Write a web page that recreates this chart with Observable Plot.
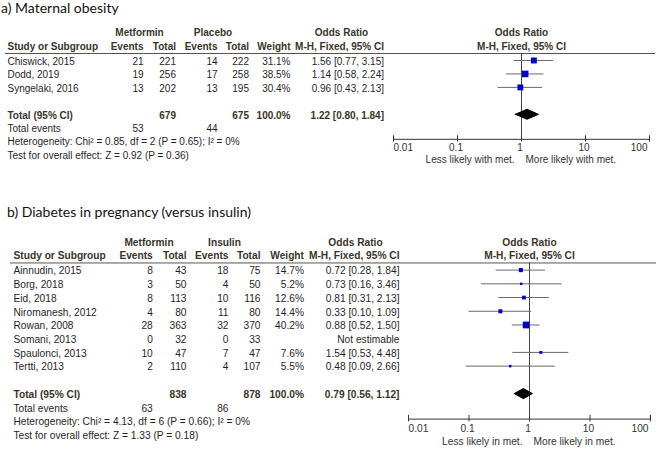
<!DOCTYPE html>
<html>
<head>
<meta charset="utf-8">
<script src="https://cdn.jsdelivr.net/npm/d3@7"></script>
<script src="https://cdn.jsdelivr.net/npm/@observablehq/plot@0.6"></script>
<style>
  body { margin: 0; background: #fff; }
  #fig { position: relative; width: 660px; height: 449px; overflow: hidden; background: #fff; }
  .title { position: absolute; font-family: Lato, "Open Sans", sans-serif; font-size: 14px; line-height: 16px; color: #111; white-space: nowrap; }
  #fig svg { position: absolute; left: 0; overflow: visible; }
</style>
</head>
<body>
<div id="fig">
  <div class="title" id="ta">a) Maternal obesity</div>
  <div class="title" id="tb">b) Diabetes in pregnancy (versus insulin)</div>
</div>
<script>
// ---------- Panel a: Maternal obesity ----------
const aStudy = ["Chiswick, 2015", "Dodd, 2019", "Syngelaki, 2016"];
const aMetEvents = [21, 19, 13];
const aMetTotal = [221, 256, 202];
const aCtlEvents = [14, 17, 13];
const aCtlTotal = [222, 258, 195];
const aWeight = [31.1, 38.5, 30.4];
const aOR = [1.56, 1.14, 0.96];
const aLow = [0.77, 0.58, 0.43];
const aHigh = [3.15, 2.24, 2.13];
const aTotals = [679, 675];
const aTotalEvents = [53, 44];
const aPooled = [1.22, 0.80, 1.84];
const aHet = "Heterogeneity: Chi\u00b2 = 0.85, df = 2 (P = 0.65); I\u00b2 = 0%";
const aTest = "Test for overall effect: Z = 0.92 (P = 0.36)";

// ---------- Panel b: Diabetes in pregnancy (versus insulin) ----------
const bStudy = ["Ainnudin, 2015", "Borg, 2018", "Eid, 2018", "Niromanesh, 2012", "Rowan, 2008", "Somani, 2013", "Spaulonci, 2013", "Tertti, 2013"];
const bMetEvents = [8, 3, 8, 4, 28, 0, 10, 2];
const bMetTotal = [43, 50, 113, 80, 363, 32, 47, 110];
const bCtlEvents = [18, 4, 10, 11, 32, 0, 7, 4];
const bCtlTotal = [75, 50, 116, 80, 370, 33, 47, 107];
const bWeight = [14.7, 5.2, 12.6, 14.4, 40.2, null, 7.6, 5.5];
const bOR = [0.72, 0.73, 0.81, 0.33, 0.88, null, 1.54, 0.48];
const bLow = [0.28, 0.16, 0.31, 0.10, 0.52, null, 0.53, 0.09];
const bHigh = [1.84, 3.46, 2.13, 1.09, 1.50, null, 4.48, 2.66];
const bTotals = [838, 878];
const bTotalEvents = [63, 86];
const bPooled = [0.79, 0.56, 1.12];
const bHet = "Heterogeneity: Chi\u00b2 = 4.13, df = 6 (P = 0.66); I\u00b2 = 0%";
const bTest = "Test for overall effect: Z = 1.33 (P = 0.18)";

// ---------- shared labels ----------
const tickValues = [0.01, 0.1, 1, 10, 100];
const tickLabels = ["0.01", "0.1", "1", "10", "100"];

const panelA = {
  study: aStudy, metEv: aMetEvents, metTot: aMetTotal, ctlEv: aCtlEvents, ctlTot: aCtlTotal,
  weight: aWeight, or: aOR, lo: aLow, hi: aHigh, totals: aTotals, totalEvents: aTotalEvents,
  pooled: aPooled, het: aHet, test: aTest,
  metName: "Metformin", ctlName: "Placebo",
  favLeft: "Less likely with met.", favRight: "More likely with met."
};
const panelB = {
  study: bStudy, metEv: bMetEvents, metTot: bMetTotal, ctlEv: bCtlEvents, ctlTot: bCtlTotal,
  weight: bWeight, or: bOR, lo: bLow, hi: bHigh, totals: bTotals, totalEvents: bTotalEvents,
  pooled: bPooled, het: bHet, test: bTest,
  metName: "Metformin", ctlName: "Insulin",
  favLeft: "Less likely in met.", favRight: "More likely in met."
};

const layoutA = {
  top: 0, height: 178, row0: 60, rowH: 13.45, xRange: [393, 649], fs: 10, dh: 0.37,
  lineInset: [5, 5], tickRow: 3.42, favRow: 4.3,
  cols: {study: 7, metEv: 143, metTot: 175.5, ctlEv: 217, ctlTot: 248.5, weight: 290, or: 383.5, metHead: 139, ctlHead: 212.5, orHead: 341}
};
const layoutB = {
  top: 180, height: 269, row0: 89.6, rowH: 13.72, xRange: [408, 650], fs: 10.2, dh: 0.37,
  lineInset: [10, 4], tickRow: 3.5, favRow: 4.45,
  cols: {study: 13, metEv: 152.3, metTot: 186, ctlEv: 228, ctlTot: 260, weight: 303.5, or: 399, metHead: 148.5, ctlHead: 224, orHead: 355}
};

const fmt2 = v => v.toFixed(2);
const orText = (o, l, h) => `${fmt2(o)} [${fmt2(l)}, ${fmt2(h)}]`;

function drawPanel(P, L) {
  const n = P.study.length;
  const idx = d3.range(n);
  const C = L.cols;
  const rTot = n + 1, rEv = n + 2, rHet = n + 3, rTest = n + 4, rAxis = n + 2.86;
  const bodyColor = "#1f1f1f", boldColor = "#3a3428";
  const base = {frameAnchor: "left", fontSize: L.fs, fill: bodyColor, dy: 1};
  const hb = {...base, fontWeight: "bold", fill: boldColor};
  const one = [0];
  const T = (row, label, x, anchor, st) => Plot.text(one, {...st, y: () => row, text: () => label, dx: x, textAnchor: anchor});
  const col = (vals, x, anchor) => Plot.text(idx, {...base, y: i => i, text: i => vals[i], dx: x, textAnchor: anchor});
  const est = idx.filter(i => P.weight[i] != null);
  const [pOR, pLo, pHi] = P.pooled;
  const dia = [[pLo, rTot], [pOR, rTot - L.dh], [pHi, rTot], [pOR, rTot + L.dh], [pLo, rTot]];
  const fx = {fontSize: L.fs, fill: bodyColor, dy: 1};

  return Plot.plot({
    width: 660, height: L.height, margin: 0,
    style: {fontFamily: "'Liberation Sans', Arial, sans-serif", background: "transparent", overflow: "visible"},
    x: {type: "log", domain: [0.01, 100], range: L.xRange, axis: null},
    y: {type: "linear", domain: [0, 1], range: [L.row0, L.row0 + L.rowH], axis: null},
    r: {type: "sqrt", domain: [0, 100], range: [0, 6]},
    marks: [
      // header row 1
      T(-2.1, P.metName, C.metHead, "middle", hb),
      T(-2.1, P.ctlName, C.ctlHead, "middle", hb),
      T(-2.1, "Odds Ratio", C.orHead, "middle", hb),
      Plot.text(one, {...fx, fontWeight: "bold", fill: boldColor, x: () => 1, y: () => -2.1, text: () => "Odds Ratio"}),
      // header row 2
      T(-1.1, "Study or Subgroup", C.study, "start", hb),
      T(-1.1, "Events", C.metEv, "end", hb),
      T(-1.1, "Total", C.metTot, "end", hb),
      T(-1.1, "Events", C.ctlEv, "end", hb),
      T(-1.1, "Total", C.ctlTot, "end", hb),
      T(-1.1, "Weight", C.weight, "end", hb),
      T(-1.1, "M-H, Fixed, 95% CI", C.or, "end", hb),
      Plot.text(one, {...fx, fontWeight: "bold", fill: boldColor, x: () => 1, y: () => -1.1, text: () => "M-H, Fixed, 95% CI"}),
      // header underline
      Plot.ruleY([-0.52], {stroke: "#555", strokeWidth: 1, insetLeft: L.lineInset[0], insetRight: L.lineInset[1]}),
      // study rows
      col(P.study, C.study, "start"),
      col(P.metEv, C.metEv, "end"),
      col(P.metTot, C.metTot, "end"),
      col(P.ctlEv, C.ctlEv, "end"),
      col(P.ctlTot, C.ctlTot, "end"),
      col(idx.map(i => P.weight[i] == null ? "" : P.weight[i].toFixed(1) + "%"), C.weight, "end"),
      col(idx.map(i => P.or[i] == null ? "Not estimable" : orText(P.or[i], P.lo[i], P.hi[i])), C.or, "end"),
      // total row
      T(rTot, "Total (95% CI)", C.study, "start", hb),
      T(rTot, String(P.totals[0]), C.metTot, "end", hb),
      T(rTot, String(P.totals[1]), C.ctlTot, "end", hb),
      T(rTot, "100.0%", C.weight, "end", hb),
      T(rTot, orText(pOR, pLo, pHi), C.or, "end", hb),
      // total events
      T(rEv, "Total events", C.study, "start", base),
      T(rEv, String(P.totalEvents[0]), C.metEv, "end", base),
      T(rEv, String(P.totalEvents[1]), C.ctlEv, "end", base),
      // heterogeneity and test
      T(rHet, P.het, C.study, "start", base),
      T(rTest, P.test, C.study, "start", base),
      // forest: line of no effect
      Plot.ruleX([1], {y1: -0.52, y2: rAxis, stroke: "#444", strokeWidth: 1}),
      // confidence intervals
      Plot.ruleY(est, {x1: i => P.lo[i], x2: i => P.hi[i], y: i => i, stroke: "#6a6a6a", strokeWidth: 1}),
      // study squares
      Plot.dot(est, {x: i => P.or[i], y: i => i, r: i => P.weight[i], symbol: "square", fill: "#0000cc", stroke: null}),
      // pooled diamond
      Plot.line(dia, {x: d => d[0], y: d => d[1], fill: "#000", stroke: "#000", strokeWidth: 1}),
      // axis
      Plot.ruleY([rAxis], {x1: 0.01, x2: 100, stroke: "#333", strokeWidth: 1}),
      Plot.ruleX(tickValues, {y1: rAxis - 0.27, y2: rAxis + 0.2, stroke: "#333", strokeWidth: 1}),
      Plot.text([0], {...fx, fill: "#333", x: i => tickValues[i], y: () => n + L.tickRow, text: i => tickLabels[i], textAnchor: "start"}),
      Plot.text([1, 2, 3], {...fx, fill: "#333", x: i => tickValues[i], y: () => n + L.tickRow, text: i => tickLabels[i], textAnchor: "middle", dx: -1.5}),
      Plot.text([4], {...fx, fill: "#333", x: i => tickValues[i], y: () => n + L.tickRow, text: i => tickLabels[i], textAnchor: "end", dx: -2}),
      Plot.text(one, {...fx, fill: "#333", x: () => 1, y: () => n + L.favRow, text: () => P.favLeft, textAnchor: "end", dx: -7}),
      Plot.text(one, {...fx, fill: "#333", x: () => 1, y: () => n + L.favRow, text: () => P.favRight, textAnchor: "start", dx: 4})
    ]
  });
}

const fig = document.getElementById("fig");
const svgA = drawPanel(panelA, layoutA);
svgA.style.top = layoutA.top + "px";
fig.appendChild(svgA);
const svgB = drawPanel(panelB, layoutB);
svgB.style.top = layoutB.top + "px";
fig.appendChild(svgB);

const ta = document.getElementById("ta");
ta.style.left = "1px"; ta.style.top = "0px";
const tb = document.getElementById("tb");
tb.style.left = "7px"; tb.style.top = "204px";
</script>
</body>
</html>
